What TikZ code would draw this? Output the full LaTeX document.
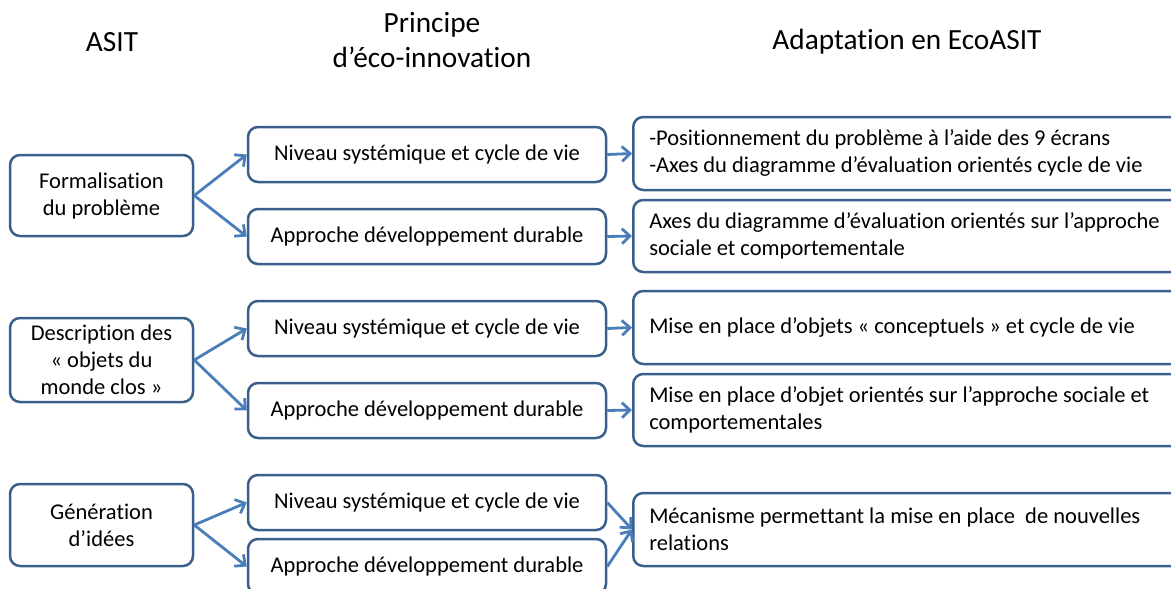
\documentclass[tikz,border=0pt]{standalone}
\usepackage{fontspec}
\setmainfont{Carlito}[Ligatures=NoCommon]
\usetikzlibrary{arrows.meta}
\definecolor{boxc}{HTML}{3A5F8B}
\definecolor{arrc}{HTML}{4A7EBB}
\begin{document}
\begin{tikzpicture}[x=1pt,y=-1pt,
  box/.style={draw=boxc, line width=2.5pt, rounded corners=10pt, fill=white,
    font=\fontsize{22.5}{27}\selectfont, align=center, inner sep=0pt},
  leftbox/.style={box, minimum width=183pt},
  midbox/.style={box, minimum width=358pt, minimum height=55pt},
  rightbox/.style={box, anchor=west, minimum width=553pt, text width=521pt,
    inner xsep=16pt, align=flush left},
  header/.style={font=\fontsize{29.3}{35}\selectfont, align=center},
  link/.style={draw=arrc, line width=2.8pt, -{Straight Barb[length=8pt,width=15pt,line width=2.8pt]}}
]
\useasboundingbox (0,0) rectangle (1171,589);

% headers
\node[header] (h1) at (112,42) {ASIT};
\node[header] (h2) at (432,40) {Principe\\d’éco-innovation};
\node[header] (h3) at (907,42) {Adaptation en EcoASIT};

% row 1
\node[leftbox, minimum height=81pt] (l1) at (101.5,195.5) {Formalisation\\du problème};
\node[midbox] (n1) at (427,154.5) {Niveau systémique et cycle de vie};
\node[midbox] (a1) at (427,236.5) {Approche développement durable};
\node[rightbox, minimum height=73pt] (r1) at (632,153.5) {-Positionnement du problème à l’aide des 9 écrans\\-Axes du diagramme d’évaluation orientés cycle de vie};
\node[rightbox, minimum height=72pt] (s1) at (632,236) {Axes du diagramme d’évaluation orientés sur l’approche\\sociale et comportementale};

% row 2
\node[leftbox, minimum height=84pt] (l2) at (101.5,360) {Description des\\« objets du\\monde clos »};
\node[midbox] (n2) at (427,328.5) {Niveau systémique et cycle de vie};
\node[midbox] (a2) at (427,410.5) {Approche développement durable};
\node[rightbox, minimum height=73pt] (r2) at (632,327.5) {Mise en place d’objets « conceptuels » et cycle de vie};
\node[rightbox, minimum height=72pt] (s2) at (632,410) {Mise en place d’objet orientés sur l’approche sociale et\\comportementales};

% row 3
\node[leftbox, minimum height=82pt] (l3) at (101.5,525) {Génération\\d’idées};
\node[midbox] (n3) at (427,502.5) {Niveau systémique et cycle de vie};
\node[midbox] (a3) at (427,566.5) {Approche développement durable};
\node[rightbox, minimum height=73pt] (r3) at (632,529.5) {Mécanisme permettant la mise en place~ de nouvelles\\relations};

% connectors
\draw[link] (l1.east) -- (n1.west);
\draw[link] (l1.east) -- (a1.west);
\draw[link] (n1.east) -- (r1.west);
\draw[link] (a1.east) -- (s1.west);
\draw[link] (l2.east) -- (n2.west);
\draw[link] (l2.east) -- (a2.west);
\draw[link] (n2.east) -- (r2.west);
\draw[link] (a2.east) -- (s2.west);
\draw[link] (l3.east) -- (n3.west);
\draw[link] (l3.east) -- (a3.west);
\draw[link] (n3.east) -- (r3.west);
\draw[link] (a3.east) -- (r3.west);
\end{tikzpicture}
\end{document}
